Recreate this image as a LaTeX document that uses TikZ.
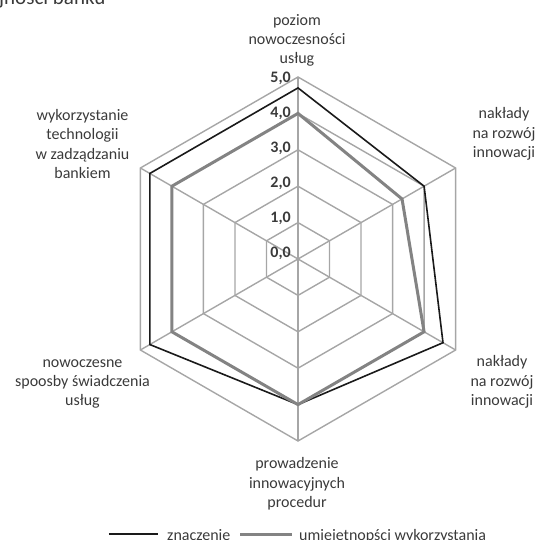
\documentclass[tikz,border=0pt]{standalone}
\usepackage{fontspec}
\setmainfont{Carlito}
\definecolor{gridc}{HTML}{A6A6A6}
\definecolor{serg}{HTML}{838383}
\definecolor{txt}{HTML}{3A3A3A}
\definecolor{serb}{HTML}{1A1A1A}
\begin{document}
\begin{tikzpicture}[x=1pt,y=1pt,
  grid/.style={draw=gridc,line width=1.4pt},
  lab/.style={font=\fontsize{16}{19.3}\selectfont,text=txt,align=center,inner sep=0pt},
  num/.style={font=\fontsize{16}{19}\selectfont\bfseries,text=txt,inner sep=0pt,anchor=east},
  sblack/.style={draw=serb,line width=1.6pt},
  sgray/.style={draw=serg,line width=3pt}]
\useasboundingbox (-298,-281) rectangle (239,259);
\clip (-298,-281) rectangle (239,259);
\coordinate (O) at (0,0);
\foreach \a [count=\i] in {90,30,-30,-90,-150,150} {
  \foreach \r in {1,...,5} {\coordinate (g\r-\i) at (\a:{\r*36.4});}
}
\foreach \r in {1,...,5} {\draw[grid] (g\r-1)--(g\r-2)--(g\r-3)--(g\r-4)--(g\r-5)--(g\r-6)--cycle;}
\foreach \i in {1,...,6} {\draw[grid] (O)--(g5-\i);}
% data
\foreach \a/\v [count=\i] in {90/4.7,30/4.0,-30/4.6,-90/4.0,-150/4.7,150/4.7} {\coordinate (b\i) at (\a:{\v*36.4});}
\foreach \a/\v [count=\i] in {90/4.0,30/3.3,-30/4.0,-90/4.0,-150/4.0,150/4.0} {\coordinate (s\i) at (\a:{\v*36.4});}
\draw[sblack] (b1)--(b2)--(b3)--(b4)--(b5)--(b6)--cycle;
\draw[sgray] (s1)--(s2)--(s3)--(s4)--(s5)--(s6)--cycle;
% axis numbers
\foreach \v in {0,...,5} {\node[num] (n\v) at (-7,{6+35*\v}) {\v,0};}
% category labels
\node[lab] (l1) at (-1,218.5) {poziom\\nowoczesności\\usług};
\node[lab] (l2) at (206,125) {nakłady\\na rozwój\\innowacji};
\node[lab] (l3) at (204,-123) {nakłady\\na rozwój\\innowacji};
\node[lab] (l4) at (-1,-225) {prowadzenie\\innowacyjnych\\procedur};
\node[lab] (l5) at (-215.5,-125) {nowoczesne\\spoosby świadczenia\\usług};
\node[lab] (l6) at (-215.5,115) {wykorzystanie\\technologii\\w zadządzaniu\\bankiem};
% clipped title
\node[lab,font=\fontsize{21}{25}\selectfont,anchor=base west] (t) at (-299,254) {jności banku};
% legend
\coordinate (k1a) at (-189,-275);
\coordinate (k1b) at (-140,-275);
\draw[sblack,line width=2pt] (k1a)--(k1b);
\node[lab,anchor=base west] (k1) at (-131,-281) {znaczenie};
\coordinate (k2a) at (-58,-275);
\coordinate (k2b) at (-6,-275);
\draw[sgray] (k2a)--(k2b);
\node[lab,anchor=base west] (k2) at (1,-281) {umiejętnopści wykorzystania};
\end{tikzpicture}
\end{document}
